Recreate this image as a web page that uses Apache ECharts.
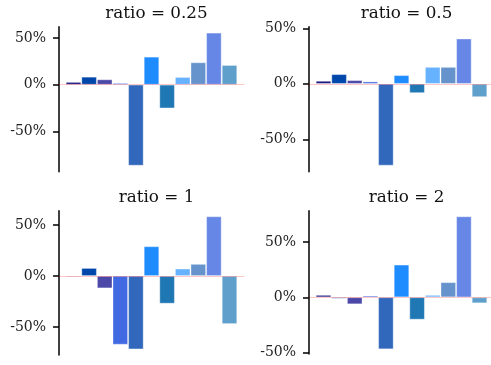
<!DOCTYPE html>
<html>
<head>
<meta charset="utf-8">
<script src="https://cdn.jsdelivr.net/npm/echarts@6/dist/echarts.min.js"></script>
<style>
  html, body { margin: 0; padding: 0; background: #fff; }
  #chart { width: 491px; height: 365px; }
</style>
</head>
<body>
<div id="chart"></div>
<script>
// Panel titles
const titles = ['ratio = 0.25', 'ratio = 0.5', 'ratio = 1', 'ratio = 2'];

// Bar values (percent) for each panel, 11 bars each
const ratio025 = [2.9, 8.5, 5.7, 1.8, -86.5, 29.9, -25.3, 8.2, 23.9, 55.6, 21.0];
const ratio05  = [2.7, 8.7, 3.3, 2.1, -73.5, 7.8, -8.3, 15.2, 15.2, 40.7, -11.9];
const ratio1   = [-1.0, 7.8, -12.1, -67.3, -71.9, 29.1, -27.1, 7.2, 11.8, 58.5, -47.1];
const ratio2   = [2.1, -1.2, -6.3, 1.5, -47.0, 29.5, -20.2, 2.1, 13.6, 73.2, -5.4];

// Y tick values per panel
const ticks025 = [-50, 0, 50];
const ticks05  = [-50, 0, 50];
const ticks1   = [-50, 0, 50];
const ticks2   = [-50, 0, 50];

// Y extents per panel
const yMin = [-93, -79, -77.5, -51.3];
const yMax = [62, 51.4, 64, 78.3];

// Colour of each bar position
const barColors = ['#1a1880', '#0047ab', '#4b48a8', '#4169e1', '#3168bb', '#1e8cff',
                   '#1f77b4', '#66b2ff', '#6693cc', '#6787e6', '#5f9fcc'];

const panels = [ratio025, ratio05, ratio1, ratio2];
const panelTicks = [ticks025, ticks05, ticks1, ticks2];

const gridPos = [
  { left: 59,  top: 26.7,  width: 185, height: 145 },
  { left: 309, top: 26.7,  width: 185, height: 145 },
  { left: 59,  top: 210.7, width: 185, height: 144.3 },
  { left: 309, top: 210.7, width: 185, height: 143.3 }
];

const serif = 'DejaVu Serif';

const option = {
  backgroundColor: '#fff',
  animation: false,
  title: panels.map((_, i) => ({
    text: titles[i],
    left: gridPos[i].left + gridPos[i].width / 2,
    top: gridPos[i].top - 27,
    textAlign: 'center',
    textStyle: { fontFamily: serif, fontSize: 16.8, fontWeight: 'normal', color: '#111' }
  })),
  grid: gridPos.map(g => Object.assign({ containLabel: false, outerBoundsMode: 'none' }, g)),
  xAxis: panels.map((_, i) => ({
    type: 'value',
    gridIndex: i,
    min: -0.93,
    max: 10.93,
    z: 5,
    axisLine: { show: true, onZero: true, lineStyle: { color: 'rgba(255,0,0,0.22)', width: 1 } },
    axisTick: { show: false },
    axisLabel: { show: false },
    splitLine: { show: false }
  })),
  yAxis: panels.map((_, i) => ({
    type: 'value',
    gridIndex: i,
    min: yMin[i],
    max: yMax[i],
    axisLine: { show: true, onZero: false, lineStyle: { color: '#000', width: 1.5 } },
    axisTick: { show: true, length: 6, customValues: panelTicks[i], lineStyle: { color: '#000', width: 1.5 } },
    axisLabel: {
      customValues: panelTicks[i],
      formatter: v => v + '%',
      margin: 13,
      fontFamily: serif,
      fontSize: 14,
      color: '#222'
    },
    splitLine: { show: false }
  })),
  series: panels.map((vals, i) => ({
    type: 'bar',
    xAxisIndex: i,
    yAxisIndex: i,
    barWidth: 15.4,
    data: vals.map((v, k) => ({
      value: [k, v],
      itemStyle: { color: barColors[k], borderColor: 'rgba(255,255,255,0.45)', borderWidth: 0.8 }
    }))
  }))
};

echarts.init(document.getElementById('chart'), null, { renderer: 'canvas' }).setOption(option);
</script>
</body>
</html>
